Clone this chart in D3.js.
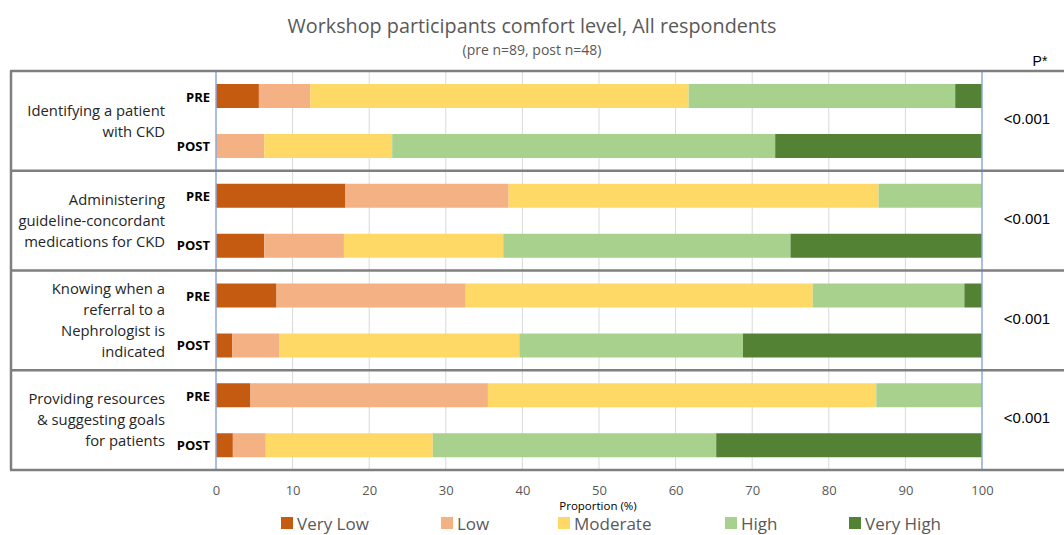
<!DOCTYPE html>
<html>
<head>
<meta charset="utf-8">
<script src="https://cdn.jsdelivr.net/npm/d3@7"></script>
<style>
  body { margin: 0; background: #fff; }
  svg { display: block; font-family: "Open Sans", sans-serif; }
</style>
</head>
<body>
<div id="chart"></div>
<script>
// data (percent of respondents)
var categories = [
  ['Identifying a patient', 'with CKD'],
  ['Administering', 'guideline-concordant', 'medications for CKD'],
  ['Knowing when a', 'referral to a', 'Nephrologist is', 'indicated'],
  ['Providing resources', '& suggesting goals', 'for patients']
];
var times = ['PRE', 'POST'];
var levels = ['Very Low', 'Low', 'Moderate', 'High', 'Very High'];
// order: cat1 PRE, cat1 POST, cat2 PRE, ...
var veryLow  = [5.6, 0,    16.9, 6.3,  7.9,  2.1,  4.5,  2.2];
var low      = [6.7, 6.3,  21.3, 10.4, 24.7, 6.2,  31.0, 4.3];
var moderate = [49.4, 16.7, 48.3, 20.8, 45.3, 31.3, 50.7, 21.8];
var high     = [34.8, 50.0, 13.5, 37.5, 19.8, 29.2, 13.8, 37.0];
var veryHigh = [3.5, 27.0,  0,    25.0, 2.3,  31.2, 0,    34.7];
var pValues = ['<0.001', '<0.001', '<0.001', '<0.001'];
var ticks = [0, 10, 20, 30, 40, 50, 60, 70, 80, 90, 100];

var colors = ['#C55A11', '#F4B183', '#FFD966', '#A9D18E', '#548235'];

var width = 1064, height = 535;
var svg = d3.select('#chart').append('svg')
  .attr('width', width)
  .attr('height', height);

var rows = [];
categories.forEach(function (c, i) {
  times.forEach(function (t, j) {
    var k = i * 2 + j;
    rows.push({cat: i, time: t, 'Very Low': veryLow[k], 'Low': low[k],
      'Moderate': moderate[k], 'High': high[k], 'Very High': veryHigh[k]});
  });
});

var x = d3.scaleLinear().domain([0, 100]).range([216, 982]);
var yCat = d3.scaleBand().domain(d3.range(categories.length)).range([71, 470]);
var yTime = d3.scaleBand().domain(times).range([13, 87]).paddingInner(0.52);

// title
svg.append('text')
  .attr('x', 532).attr('y', 33)
  .attr('text-anchor', 'middle')
  .attr('font-size', 19.8)
  .attr('fill', '#595959')
  .text('Workshop participants comfort level, All respondents');
svg.append('text')
  .attr('x', 532).attr('y', 55)
  .attr('text-anchor', 'middle')
  .attr('font-size', 14)
  .attr('fill', '#595959')
  .text('(pre n=89, post n=48)');
svg.append('text')
  .attr('x', 1040).attr('y', 66)
  .attr('text-anchor', 'middle')
  .attr('font-size', 14)
  .attr('font-family', 'Arial, "Liberation Sans", sans-serif')
  .attr('fill', '#000')
  .text('P*');

// gridlines
svg.append('g').selectAll('line')
  .data(ticks.slice(1, -1))
  .enter().append('line')
  .attr('x1', x).attr('x2', x)
  .attr('y1', 71).attr('y2', 470)
  .attr('stroke', '#d9d9d9')
  .attr('stroke-width', 1);

// bars
var stack = d3.stack().keys(levels);
var series = stack(rows);
svg.append('g').selectAll('g')
  .data(series)
  .enter().append('g')
  .attr('fill', function (d, i) { return colors[i]; })
  .selectAll('rect')
  .data(function (d) { return d; })
  .enter().append('rect')
  .attr('x', function (d) { return x(d[0]); })
  .attr('width', function (d) { return x(d[1]) - x(d[0]); })
  .attr('y', function (d) { return yCat(d.data.cat) + yTime(d.data.time); })
  .attr('height', yTime.bandwidth());

// 0 and 100 axis lines
svg.append('g').selectAll('line')
  .data([0, 100])
  .enter().append('line')
  .attr('x1', x).attr('x2', x)
  .attr('y1', 71).attr('y2', 470)
  .attr('stroke', '#8FAADC')
  .attr('stroke-width', 1.5);

// table borders
var border = svg.append('g').attr('stroke', '#7f7f7f').attr('stroke-width', 2.5);
border.selectAll('line.h')
  .data(d3.range(categories.length + 1))
  .enter().append('line')
  .attr('x1', 10).attr('x2', width)
  .attr('y1', function (d) { return d < categories.length ? yCat(d) : 470; })
  .attr('y2', function (d) { return d < categories.length ? yCat(d) : 470; });
border.append('line')
  .attr('x1', 11).attr('x2', 11)
  .attr('y1', 71).attr('y2', 470);

// category labels
var lineH = 21;
svg.append('g').selectAll('text')
  .data(categories)
  .enter().append('text')
  .attr('text-anchor', 'end')
  .attr('font-size', 14.8)
  .attr('fill', '#262626')
  .each(function (lines, i) {
    var mid = yCat(i) + yCat.bandwidth() / 2;
    var top = mid - (lines.length - 1) * lineH / 2;
    d3.select(this).selectAll('tspan')
      .data(lines)
      .enter().append('tspan')
      .attr('x', 165)
      .attr('y', function (d, j) { return top + j * lineH; })
      .attr('dy', '0.35em')
      .text(function (d) { return d; });
  });

// PRE / POST labels
svg.append('g').selectAll('text')
  .data(rows)
  .enter().append('text')
  .attr('x', 210)
  .attr('y', function (d) { return yCat(d.cat) + yTime(d.time) + yTime.bandwidth() / 2 + (d.time === 'PRE' ? 1 : 0); })
  .attr('dy', '0.35em')
  .attr('text-anchor', 'end')
  .attr('font-size', 13)
  .attr('font-weight', 'bold')
  .attr('fill', '#000')
  .text(function (d) { return d.time; });

// p values
svg.append('g').selectAll('text')
  .data(pValues)
  .enter().append('text')
  .attr('x', 1027)
  .attr('y', function (d, i) { return yCat(i) + yCat.bandwidth() / 2 - 2; })
  .attr('dy', '0.35em')
  .attr('text-anchor', 'middle')
  .attr('font-size', 15)
  .attr('font-family', 'Arial, "Liberation Sans", sans-serif')
  .attr('fill', '#000')
  .text(function (d) { return d; });

// x axis
var axis = svg.append('g')
  .attr('transform', 'translate(0,470)')
  .call(d3.axisBottom(x).tickValues(ticks).tickSize(0).tickPadding(16));
axis.select('.domain').remove();
axis.selectAll('text')
  .attr('font-size', 13)
  .attr('font-family', '"Open Sans", sans-serif')
  .attr('fill', '#595959');

svg.append('text')
  .attr('x', 598).attr('y', 510)
  .attr('text-anchor', 'middle')
  .attr('font-size', 11.5)
  .attr('fill', '#000')
  .text('Proportion (%)');

// legend
var legendX = [281, 441, 558, 725, 849];
var legend = svg.append('g').selectAll('g')
  .data(levels)
  .enter().append('g')
  .attr('transform', function (d, i) { return 'translate(' + legendX[i] + ',517)'; });
legend.append('rect')
  .attr('width', 12).attr('height', 12)
  .attr('fill', function (d, i) { return colors[i]; });
legend.append('text')
  .attr('x', 16).attr('y', 12.5)
  .attr('font-size', 17)
  .attr('fill', '#595959')
  .text(function (d) { return d; });
</script>
</body>
</html>
